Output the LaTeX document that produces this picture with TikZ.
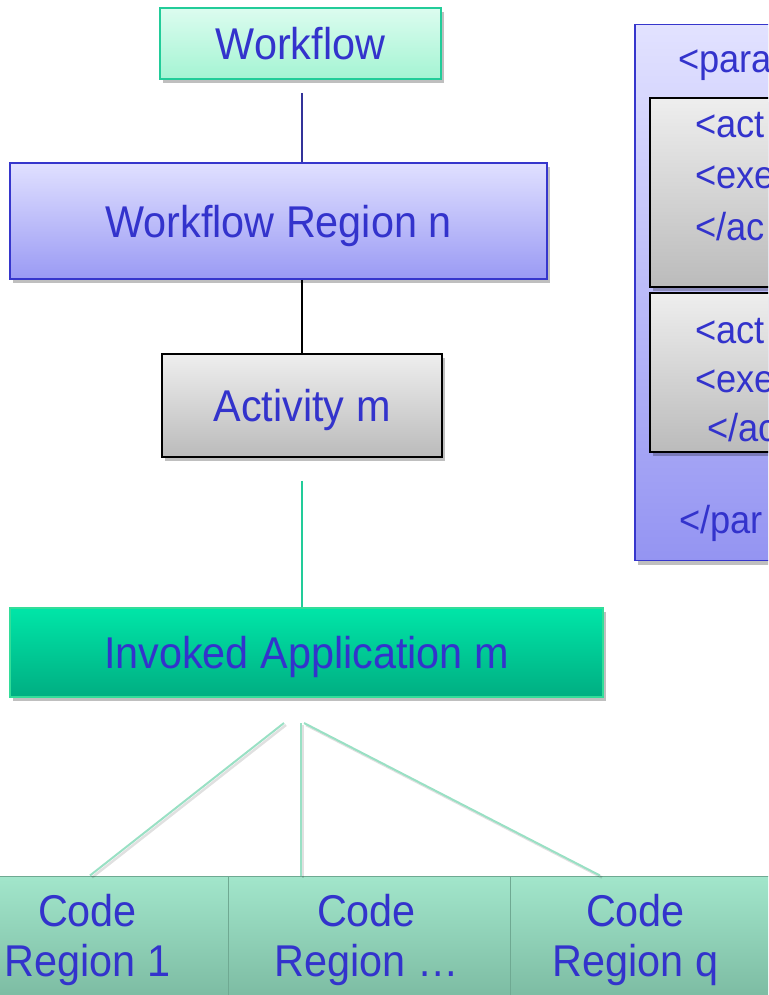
\documentclass[tikz,border=0pt]{standalone}
\usepackage{fontspec}
\setmainfont[FakeStretch=0.93]{Liberation Sans}
\usetikzlibrary{shadows}
\definecolor{txt}{HTML}{3333CC}
\definecolor{wfTop}{HTML}{DCFCEF}
\definecolor{wfBot}{HTML}{A4F4D3}
\definecolor{wfBorder}{HTML}{22CC99}
\definecolor{wrTop}{HTML}{E0E0FF}
\definecolor{wrBot}{HTML}{9A9AF4}
\definecolor{wrBorder}{HTML}{3636CC}
\definecolor{actTop}{HTML}{EEEEEE}
\definecolor{actBot}{HTML}{BBBBBB}
\definecolor{invTop}{HTML}{00E6A8}
\definecolor{invBot}{HTML}{00AE82}
\definecolor{invBorder}{HTML}{33DD99}
\definecolor{codeTop}{HTML}{A2E6CB}
\definecolor{codeBot}{HTML}{7DBCA3}
\definecolor{codeSep}{HTML}{6FA992}
\definecolor{panelTop}{HTML}{E2E2FF}
\definecolor{panelBot}{HTML}{9494F2}
\definecolor{navy}{HTML}{333399}
\definecolor{fanc}{HTML}{99E0C4}
\begin{document}
\begin{tikzpicture}[x=1pt,y=-1pt,
  shd/.style={drop shadow={shadow xshift=3pt,shadow yshift=-4pt,opacity=0.25,fill=black}},
  box/.style={draw, line width=1.5pt, inner sep=0pt, text=txt,
    font=\fontsize{44.5}{50}\selectfont, text height=32pt, text depth=0pt, shd},
  wfbox/.style={box, draw=wfBorder, line width=2pt, top color=wfTop, bottom color=wfBot},
  wrbox/.style={box, draw=wrBorder, top color=wrTop, bottom color=wrBot},
  actbox/.style={box, draw=black, top color=actTop, bottom color=actBot},
  invbox/.style={box, draw=invBorder, line width=2pt, top color=invTop, bottom color=invBot},
  codebox/.style={draw=codeSep, line width=1pt, inner sep=0pt, top color=codeTop, bottom color=codeBot},
  codetext/.style={text=txt, inner sep=0pt, align=center, font=\fontsize{44.5}{50}\selectfont, anchor=north},
  panel/.style={draw=wrBorder, line width=1.5pt, inner sep=0pt, top color=panelTop, bottom color=panelBot, shd},
  inner/.style={draw=black, line width=1.5pt, inner sep=0pt, top color=actTop, bottom color=actBot, shd},
  ptext/.style={text=txt, inner sep=0pt, font=\fontsize{39}{46}\selectfont, anchor=base west},
  fan/.style={draw=fanc, line width=2pt},
  fanshadow/.style={draw=black, opacity=0.12, line width=2.5pt}
]
\useasboundingbox (0,0) rectangle (768,995);
\begin{scope}
\clip (0,0) rectangle (768,995);

% left column boxes
\node[wfbox, minimum width=281pt, minimum height=71pt] (wf) at (300.5,43.5) {Workflow};
\node[wrbox, minimum width=537pt, minimum height=116pt] (wr) at (278.5,221) {Workflow Region n};
\node[actbox, minimum width=280pt, minimum height=103pt] (act) at (302,405.5) {Activity m};
\node[invbox, minimum width=593pt, minimum height=89pt] (inv) at (306.5,652) {Invoked Application m};

% connectors
\draw[navy, line width=1.5pt, shorten <=13pt] (wf.south -| act.north) -- (wr.north -| act.north);
\draw[black, line width=1.5pt] (wr.south -| act.north) -- (act.north);
\draw[wfBorder, line width=1.5pt, shorten <=23pt] (act.south) -- (act.south |- inv.north);

% code regions
\node[codebox, minimum width=282pt, minimum height=120pt] (c1) at (87,936) {};
\node[codebox, minimum width=282pt, minimum height=120pt] (c2) at (369,936) {};
\node[codebox, minimum width=282pt, minimum height=120pt] (c3) at (651,936) {};
\node[codetext] (t1) at (87.5,894.5) {Code\\Region 1};
\node[codetext] (t2) at (366.5,894.5) {Code\\Region \dots};
\node[codetext] (t3) at (635.5,894.5) {Code\\Region q};

% fan connectors
\coordinate (f1) at (284,723);
\coordinate (f2) at (301,723);
\coordinate (f3) at (304,723);
\draw[fanshadow] ([shift={(2pt,-2pt)}]f1) -- ([shift={(2pt,-2pt)}]c1.north -| 90,0);
\draw[fanshadow] ([shift={(2pt,-2pt)}]f2) -- ([shift={(2pt,-2pt)}]c2.north -| 301,0);
\draw[fanshadow] ([shift={(2pt,-2pt)}]f3) -- ([shift={(2pt,-2pt)}]c3.north -| 600,0);
\draw[fan] (f1) -- (c1.north -| 90,0);
\draw[fan] (f2) -- (c2.north -| 301,0);
\draw[fan] (f3) -- (c3.north -| 600,0);

% right panel
\node[panel, minimum width=200pt, minimum height=536pt] (pan) at (735,292.5) {};
\node[inner, minimum width=200pt, minimum height=189pt] (i1) at (750,192.5) {};
\node[inner, minimum width=200pt, minimum height=159pt] (i2) at (750,372.5) {};
\node[ptext] (p1) at (678,73) {<para};
\node[ptext] (p2) at (695,138) {<act};
\node[ptext] (p3) at (695,189) {<exe};
\node[ptext] (p4) at (695,240) {</ac};
\node[ptext] (p5) at (695,343) {<act};
\node[ptext] (p6) at (695,392) {<exe};
\node[ptext] (p7) at (707,441) {</ac};
\node[ptext] (p8) at (679,533) {</par};
\end{scope}
\end{tikzpicture}
\end{document}
